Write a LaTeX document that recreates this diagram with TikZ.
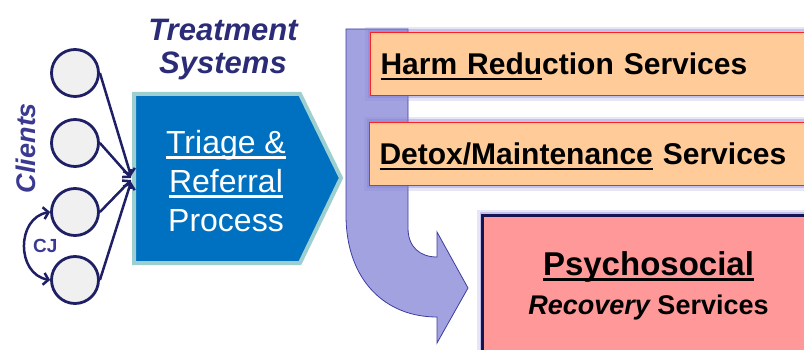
\documentclass[tikz,border=0pt]{standalone}
\usepackage{fontspec}
\setmainfont{Liberation Sans}
\usetikzlibrary{arrows.meta}
\definecolor{navy}{HTML}{1F1F66}
\definecolor{titlec}{HTML}{2B2B78}
\definecolor{clientc}{HTML}{3A3A92}
\definecolor{cgray}{HTML}{F0F0F0}
\definecolor{triblue}{HTML}{0070C0}
\definecolor{tealb}{HTML}{9DCFD0}
\definecolor{bandc}{HTML}{A2A2E0}
\definecolor{bandline}{HTML}{3C3CA0}
\definecolor{orangec}{HTML}{FFCC99}
\definecolor{redline}{HTML}{FF2020}
\definecolor{pinkc}{HTML}{FF9999}
\definecolor{psyline}{HTML}{141450}
\definecolor{glowc}{HTML}{8080D8}
\newcommand{\ulthick}[1]{\setbox0\hbox{#1}\rlap{\rule[-0.17em]{\wd0}{0.085em}}\box0\relax}
\tikzset{
  client/.style={circle, draw=navy, fill=cgray, line width=2.8pt, minimum size=47pt, inner sep=0pt},
  flow/.style={draw=navy, line width=2.5pt, -{Straight Barb[length=5pt,width=12pt]}},
  glow/.style={preaction={draw=glowc, line width=11pt, opacity=0.2},
               preaction={draw=glowc, line width=6pt, opacity=0.35}},
  service/.style={glow, draw=redline, line width=1pt, fill=orangec, anchor=north west,
                  text width=430pt, inner xsep=10pt, minimum height=63pt, align=left,
                  text height=22pt, text depth=0pt, font=\bfseries\fontsize{30}{36}\selectfont}
}
\begin{document}
\begin{tikzpicture}[x=1pt, y=-1pt]
  \useasboundingbox (0,0) rectangle (804,350);
  \clip (0,0) rectangle (804,350);
  % Clients
  \node[client] (c1) at (75,73) {};
  \node[client] (c2) at (75,143) {};
  \node[client] (c3) at (75,212) {};
  \node[client] (c4) at (75,280) {};
  \node[rotate=90, text=clientc, font=\bfseries\itshape\fontsize{27}{30}\selectfont] (clients) at (26,148) {Clients};
  \draw[navy, line width=2.5pt, {Straight Barb[length=5pt,width=12pt]}-{Straight Barb[length=5pt,width=12pt]}]
    (c3.west) to[out=190, in=170, looseness=1.3] node[midway, right=4pt, text=clientc, font=\bfseries\fontsize{19}{20}\selectfont] (cj) {CJ} (c4.west);
  % Triage
  \node[align=center, text=titlec, font=\bfseries\itshape\fontsize{31}{33}\selectfont] (treat) at (223,50) {Treatment\\Systems};
  \draw[draw=tealb, line width=4pt, fill=triblue] (134,94) -- (300,94) -- (341,178) -- (300,263) -- (134,263) -- cycle;
  \coordinate (tin) at (131,179);
  \node[align=center, text=white, font=\fontsize{32}{39}\selectfont] (triage) at (226,181)
        {\ulthick{Triage \&}\\\ulthick{Referral}\\Process};
  \draw[flow] (c1.east) -- ([yshift=3pt]tin);
  \draw[flow] (c2.east) -- ([yshift=1pt]tin);
  \draw[flow] (c3.east) -- ([yshift=-1pt]tin);
  \draw[flow] (c4.east) -- ([yshift=-3pt]tin);
  % Pfeil
  \draw[fill=bandc, draw=bandline, line width=0.8pt]
    (346,29) -- (408,29) -- (408,228) .. controls (408,247) and (420,257) .. (437,257)
    -- (437,232) -- (468,288) -- (437,343) -- (437,317)
    .. controls (385,317) and (346,280) .. (346,215) -- cycle;
  % Services
  \node[service] (harm) at (370,32) {\ulthick{Harm Redu}ction Services};
  \node[service] (detox) at (369,122) {\ulthick{Detox/Maintenance} Services};
  \node[glow, draw=psyline, line width=3pt, fill=pinkc, anchor=north west, minimum width=332pt,
        minimum height=140pt, align=center, font=\bfseries\fontsize{27}{35}\selectfont] (psy) at (481,214)
        {{\fontsize{33}{35}\selectfont\ulthick{Psychosocial}}\\[4pt]{\itshape Recovery} Services};
\end{tikzpicture}
\end{document}
